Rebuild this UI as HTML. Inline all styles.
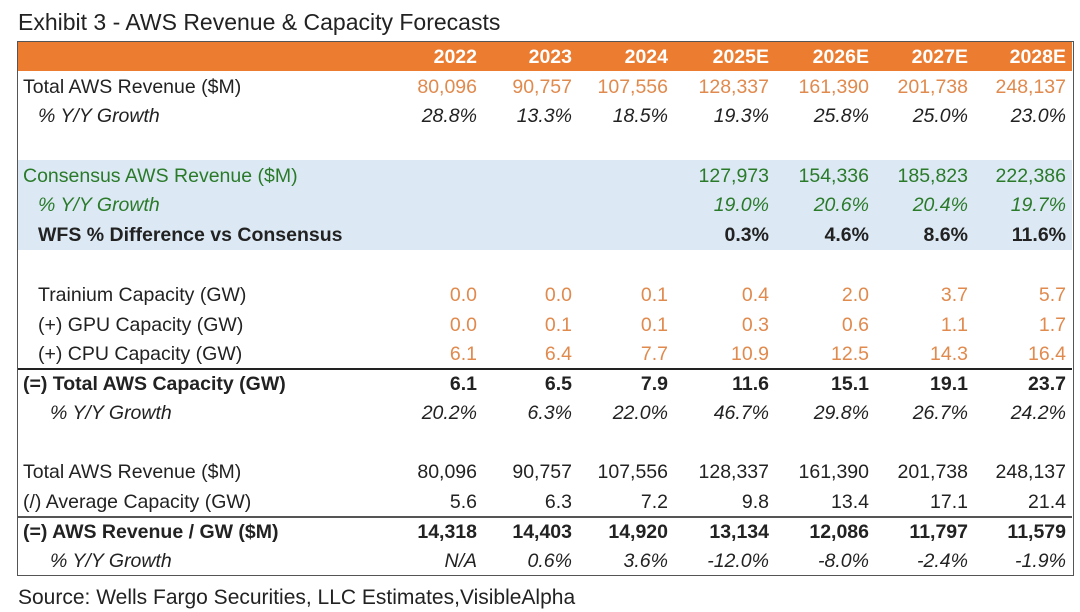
<!DOCTYPE html>
<html><head><style>
body{margin:0;width:1080px;height:612px;background:#fff;font-family:"Liberation Sans",sans-serif;color:#222;position:relative;overflow:hidden}
.a{position:absolute;white-space:nowrap;font-size:19.5px;line-height:24px}
.r{position:absolute;white-space:nowrap;font-size:19.5px;line-height:24px;text-align:right;width:140px}
.o{color:#e08a4e}.g{color:#2a7a2a}.b{font-weight:bold}.i{font-style:italic}.w{color:#fff;font-weight:bold}
</style></head><body>
<div class="a" style="left:18px;top:8px;font-size:23px;line-height:28px;color:#222">Exhibit 3 - AWS Revenue &amp; Capacity Forecasts</div>
<div style="position:absolute;left:17px;top:41px;width:1055px;height:533px;border:1.5px solid #555"></div>
<div style="position:absolute;left:18px;top:42px;width:1054px;height:29px;background:#ec7c30"></div>
<div style="position:absolute;left:18px;top:160px;width:1054px;height:90px;background:#dce9f4"></div>
<div style="position:absolute;left:18px;top:368px;width:1054px;height:2px;background:#222"></div>
<div style="position:absolute;left:18px;top:516px;width:1054px;height:1.5px;background:#555"></div>
<div id="t"></div>
<script>
var R=[477,572,668,769,869,968,1066];
var rows=[
[57,"","w",["2022","2023","2024","2025E","2026E","2027E","2028E"],"w"],
[87,"Total AWS Revenue ($M)","",["80,096","90,757","107,556","128,337","161,390","201,738","248,137"],"o",23],
[116,"% Y/Y Growth","i",["28.8%","13.3%","18.5%","19.3%","25.8%","25.0%","23.0%"],"i",38],
[176,"Consensus AWS Revenue ($M)","g",["","","","127,973","154,336","185,823","222,386"],"g",23],
[205,"% Y/Y Growth","g i",["","","","19.0%","20.6%","20.4%","19.7%"],"g i",38],
[235,"WFS % Difference vs Consensus","b",["","","","0.3%","4.6%","8.6%","11.6%"],"b",38],
[295,"Trainium Capacity (GW)","",["0.0","0.0","0.1","0.4","2.0","3.7","5.7"],"o",38],
[325,"(+) GPU Capacity (GW)","",["0.0","0.1","0.1","0.3","0.6","1.1","1.7"],"o",38],
[354,"(+) CPU Capacity (GW)","",["6.1","6.4","7.7","10.9","12.5","14.3","16.4"],"o",38],
[384,"(=) Total AWS Capacity (GW)","b",["6.1","6.5","7.9","11.6","15.1","19.1","23.7"],"b",23],
[413,"% Y/Y Growth","i",["20.2%","6.3%","22.0%","46.7%","29.8%","26.7%","24.2%"],"i",50],
[472,"Total AWS Revenue ($M)","",["80,096","90,757","107,556","128,337","161,390","201,738","248,137"],"",23],
[502,"(/) Average Capacity (GW)","",["5.6","6.3","7.2","9.8","13.4","17.1","21.4"],"",23],
[532,"(=) AWS Revenue / GW ($M)","b",["14,318","14,403","14,920","13,134","12,086","11,797","11,579"],"b",23],
[561,"% Y/Y Growth","i",["N/A","0.6%","3.6%","-12.0%","-8.0%","-2.4%","-1.9%"],"i",50]];
var h="";
rows.forEach(function(r){var t=r[0]-12;
if(r[1])h+='<div class="a '+r[2]+'" style="left:'+r[5]+'px;top:'+t+'px">'+r[1]+'</div>';
r[3].forEach(function(v,k){if(v)h+='<div class="r '+r[4]+'" style="left:'+(R[k]-140)+'px;top:'+t+'px">'+v+'</div>';});});
document.getElementById("t").innerHTML=h;
</script>
<div class="a" style="left:18px;top:585px;font-size:21px;line-height:26px">Source: Wells Fargo Securities, LLC Estimates,VisibleAlpha</div>
</body></html>
